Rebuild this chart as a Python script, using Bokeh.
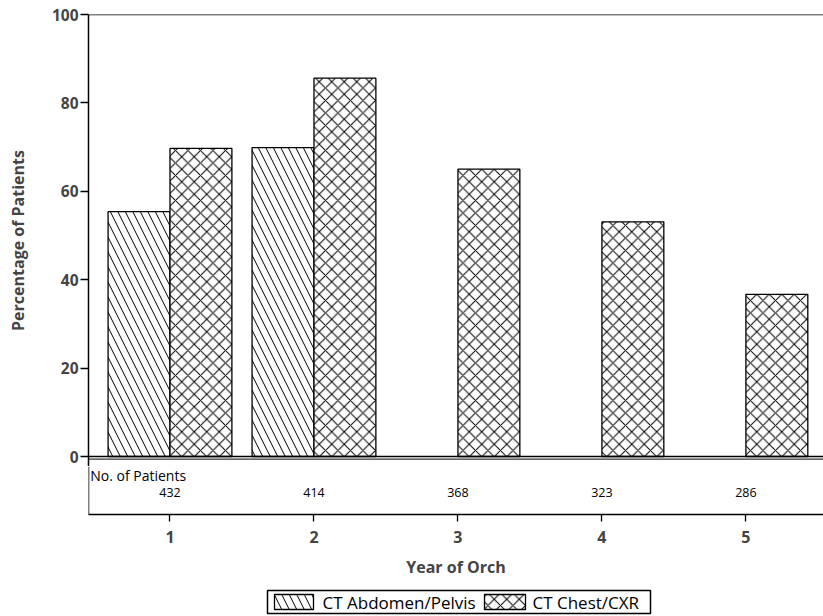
from bokeh.plotting import figure
from bokeh.models import Range1d, FixedTicker, Span, ColumnDataSource
from bokeh.layouts import column
from bokeh.core.properties import value
from bokeh.embed import file_html
from bokeh.resources import INLINE

# ---- data ----
years = [1, 2, 3, 4, 5]
abd_years = [1, 2]
abd_pct = [55.4, 69.9]
chest_years = [1, 2, 3, 4, 5]
chest_pct = [69.7, 85.6, 65.0, 53.1, 36.7]
n_patients = [432, 414, 368, 323, 286]
series_names = ["CT Abdomen/Pelvis", "CT Chest/CXR"]
y_ticks = [0, 20, 40, 60, 80, 100]

FONT = "Open Sans"
BAR_W = 0.43
X0, X1 = 0.434, 5.539
PX_PER_UNIT = 4.42
EXT = 10  # px of the upper panel below the zero line

x_range = Range1d(X0, X1)

# ---- upper panel ----
p = figure(frame_width=735, frame_height=442 + EXT, x_range=x_range,
           y_range=Range1d(-EXT / PX_PER_UNIT, 100),
           min_border_left=88, min_border_top=14, min_border_right=0, min_border_bottom=0,
           toolbar_location=None, output_backend="svg")
p.outline_line_color = None
p.xgrid.visible = False
p.ygrid.visible = False
p.xaxis.visible = False
p.background_fill_color = "white"
p.border_fill_color = "white"

abd_src = ColumnDataSource(dict(x=[v - BAR_W / 2 for v in abd_years], top=abd_pct))
chest_src = ColumnDataSource(dict(x=[v + BAR_W / 2 for v in chest_years], top=chest_pct))

abd_style = dict(fill_color="white", line_color="black", line_width=1.3,
                 hatch_pattern="\\", hatch_color="black", hatch_weight=1, hatch_scale=15)
chest_style = dict(fill_color="white", line_color="black", line_width=1.3,
                   hatch_pattern="x", hatch_color="black", hatch_weight=1, hatch_scale=12.5)

p.vbar(x="x", top="top", bottom=0, width=BAR_W, source=abd_src, **abd_style)
p.vbar(x="x", top="top", bottom=0, width=BAR_W, source=chest_src, **chest_style)

yax = p.yaxis[0]
yax.ticker = FixedTicker(ticks=y_ticks)
yax.minor_tick_line_color = None
yax.major_tick_out = 8
yax.major_tick_in = 0
yax.major_tick_line_width = 1.3
yax.axis_line_width = 1.5
yax.major_label_text_font = FONT
yax.major_label_text_font_style = "bold"
yax.major_label_text_font_size = "15.5px"
yax.major_label_standoff = 2
yax.axis_label = "Percentage of Patients"
yax.axis_label_text_font = FONT
yax.axis_label_text_font_style = "bold"
yax.axis_label_text_font_size = "16px"
yax.axis_label_standoff = 20

p.add_layout(Span(location=100, dimension="width", line_color="black", line_width=1.5))
p.add_layout(Span(location=0, dimension="width", line_color="black", line_width=1.5))
p.add_layout(Span(location=-2.6 / PX_PER_UNIT, dimension="width", line_color="#333333", line_width=1.2))

# ---- lower panel (patient counts + x axis) ----
q = figure(frame_width=735, frame_height=48, x_range=x_range, y_range=Range1d(0, 1),
           min_border_left=88, min_border_top=0, min_border_right=0, min_border_bottom=0,
           toolbar_location=None, output_backend="svg")
q.outline_line_color = None
q.xgrid.visible = False
q.ygrid.visible = False
q.yaxis.visible = False
q.background_fill_color = "white"
q.border_fill_color = "white"

q.add_layout(Span(location=X0, dimension="height", line_color="black", line_width=1.5))

q.text(x=[X0 + 0.012], y=[0.82], text=["No. of Patients"], text_font=value(FONT),
       text_font_size="14px", text_align="left", text_baseline="middle", text_color="black")
q.text(x=years, y=[0.46] * len(years), text=[str(n) for n in n_patients], text_font=value(FONT),
       text_font_size="12.5px", text_align="center", text_baseline="middle", text_color="black")

xax = q.xaxis[0]
xax.ticker = FixedTicker(ticks=years)
xax.minor_tick_line_color = None
xax.major_tick_out = 7
xax.major_tick_in = 0
xax.major_tick_line_width = 1.3
xax.axis_line_width = 1.5
xax.major_label_text_font = FONT
xax.major_label_text_font_style = "bold"
xax.major_label_text_font_size = "16px"
xax.major_label_standoff = 9
xax.axis_label = "Year of Orch"
xax.axis_label_text_font = FONT
xax.axis_label_text_font_style = "bold"
xax.axis_label_text_font_size = "16px"
xax.axis_label_standoff = 10

# ---- legend strip (its own small panel; coordinates are page pixels) ----
LEG_H = 35
PAGE_BOTTOM = 615
lg = figure(frame_width=735, frame_height=LEG_H, x_range=Range1d(88, 823),
            y_range=Range1d(PAGE_BOTTOM, PAGE_BOTTOM - LEG_H),
            min_border_left=88, min_border_right=0, min_border_top=0, min_border_bottom=0,
            toolbar_location=None, output_backend="svg")
lg.axis.visible = False
lg.grid.visible = False
lg.outline_line_color = None
lg.background_fill_color = "white"
lg.border_fill_color = "white"

lg.quad(left=[267], right=[650], bottom=[613], top=[590],
        fill_color=None, line_color="black", line_width=1.5)
lg.quad(left=[274], right=[313], bottom=[609], top=[594], **abd_style)
lg.quad(left=[484], right=[525], bottom=[609], top=[594], **chest_style)
lg.text(x=[322, 532], y=[601.5, 601.5], text=series_names, text_font=value(FONT),
        text_font_size="17px", text_align="left", text_baseline="middle", text_color="black")

layout = column(p, q, lg, spacing=0)
open("out.html", "w").write(file_html(layout, INLINE))
